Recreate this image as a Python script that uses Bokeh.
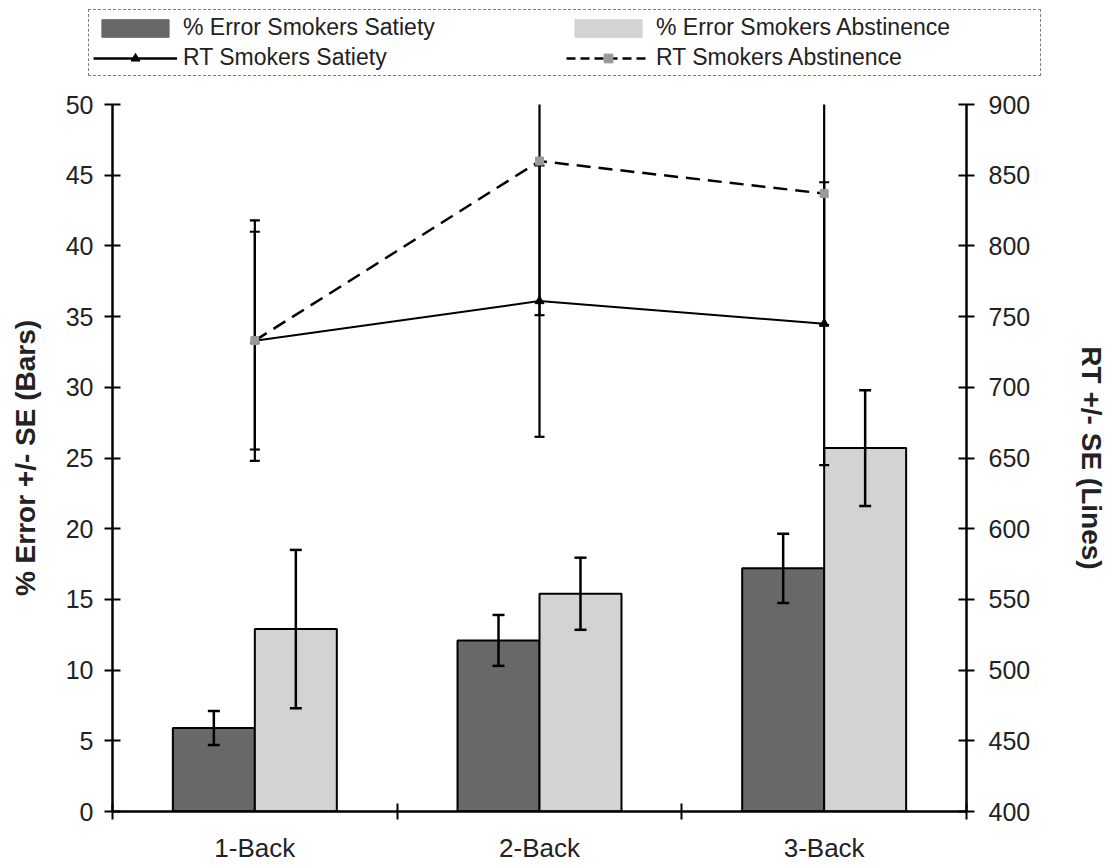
from bokeh.plotting import figure
from bokeh.models import Range1d, LinearAxis, FixedTicker, Legend, LegendItem
from bokeh.embed import file_html
from bokeh.resources import INLINE

# ---- data ----
categories = ["1-Back", "2-Back", "3-Back"]
err_sat = [5.9, 12.1, 17.2]
err_sat_se = [1.2, 1.8, 2.45]
err_abs = [12.9, 15.4, 25.7]
err_abs_se = [5.6, 2.55, 4.1]
rt_sat = [733, 761, 745]
rt_sat_se = [77, 96, 100]
rt_abs = [733, 860, 837]
rt_abs_se = [85, 109, 93]
left_ticks = [0, 5, 10, 15, 20, 25, 30, 35, 40, 45, 50]
right_ticks = [400, 450, 500, 550, 600, 650, 700, 750, 800, 850, 900]
legend_labels = ["% Error Smokers Satiety", "% Error Smokers Abstinence",
                 "RT Smokers Satiety", "RT Smokers Abstinence"]

FONT = "Liberation Sans"
TXT = "#222222"
DARK = "#686868"
LIGHT = "#d3d3d3"
ABS_MK = "#9a9a9a"
NAN = float("nan")

n = len(categories)
xc = [i + 0.5 for i in range(n)]
bw = 0.288
x_sat = [x - bw / 2 for x in xc]
x_abs = [x + bw / 2 for x in xc]

p = figure(width=1116, height=785, frame_width=854, frame_height=707,
           x_range=Range1d(0, n), y_range=Range1d(left_ticks[0], left_ticks[-1]),
           output_backend="svg", toolbar_location=None,
           min_border_left=112, min_border_right=150, min_border_top=24, min_border_bottom=54)
p.extra_y_ranges = {"rt": Range1d(right_ticks[0], right_ticks[-1])}
p.outline_line_color = None
p.grid.visible = False

# bottom axis
xa = p.xaxis[0]
xa.ticker = FixedTicker(ticks=xc, minor_ticks=list(range(n + 1)))
xa.major_label_overrides = {x: c for x, c in zip(xc, categories)}
xa.major_tick_in = 0
xa.major_tick_out = 0
xa.minor_tick_in = 8
xa.minor_tick_out = 8
xa.minor_tick_line_width = 2
xa.minor_tick_line_color = "black"
xa.axis_line_width = 2.5
xa.axis_line_color = "black"
xa.major_label_text_font = FONT
xa.major_label_text_font_size = "26px"
xa.major_label_text_color = TXT
xa.major_label_standoff = 13

# left axis
ya = p.yaxis[0]
ya.ticker = FixedTicker(ticks=left_ticks, minor_ticks=[])
ya.major_tick_in = 8
ya.major_tick_out = 8
ya.major_tick_line_width = 2
ya.axis_line_width = 2.5
ya.major_label_text_font = FONT
ya.major_label_text_font_size = "25px"
ya.major_label_text_color = TXT
ya.major_label_standoff = 11
ya.axis_label = "% Error +/- SE (Bars)"
ya.axis_label_text_font = FONT
ya.axis_label_text_font_size = "28px"
ya.axis_label_text_font_style = "bold"
ya.axis_label_text_color = TXT
ya.axis_label_standoff = 22

# right axis
ra = LinearAxis(y_range_name="rt", ticker=FixedTicker(ticks=right_ticks, minor_ticks=[]))
ra.major_tick_in = 8
ra.major_tick_out = 8
ra.major_tick_line_width = 2
ra.axis_line_width = 2.5
ra.major_label_text_font = FONT
ra.major_label_text_font_size = "25px"
ra.major_label_text_color = TXT
ra.major_label_standoff = 14
ra.axis_label = "RT +/- SE (Lines)"
ra.axis_label_text_font = FONT
ra.axis_label_text_font_size = "28px"
ra.axis_label_text_font_style = "bold"
ra.axis_label_text_color = TXT
ra.axis_label_standoff = 43
p.add_layout(ra, "right")

# bars
p.vbar(x=x_sat, top=err_sat, bottom=0, width=bw, fill_color=DARK, line_color="black", line_width=2)
p.vbar(x=x_abs, top=err_abs, bottom=0, width=bw, fill_color=LIGHT, line_color="black", line_width=2)

# bar error bars
for xs, ys, se in [(x_sat, err_sat, err_sat_se), (x_abs, err_abs, err_abs_se)]:
    lo = [y - s for y, s in zip(ys, se)]
    hi = [y + s for y, s in zip(ys, se)]
    p.segment(x0=xs, y0=lo, x1=xs, y1=hi, line_color="black", line_width=2.5)
    p.scatter(x=xs + xs, y=lo + hi, marker="dash", size=12, line_color="black", line_width=2.5)

# RT error bars
for ys, se in [(rt_sat, rt_sat_se), (rt_abs, rt_abs_se)]:
    lo = [y - s for y, s in zip(ys, se)]
    hi = [y + s for y, s in zip(ys, se)]
    p.segment(x0=xc, y0=lo, x1=xc, y1=hi, line_color="black", line_width=2.2, y_range_name="rt")
    p.scatter(x=xc + xc, y=lo + hi, marker="dash", size=10, line_color="black", line_width=2.2,
              y_range_name="rt")

# RT lines
p.line(x=xc, y=rt_sat, line_color="black", line_width=2, y_range_name="rt")
p.scatter(x=xc, y=rt_sat, marker="triangle", size=9, fill_color="black", line_color="black",
          y_range_name="rt")
p.line(x=xc, y=rt_abs, line_color="black", line_width=2.5, line_dash="14 8", y_range_name="rt")
p.scatter(x=xc, y=rt_abs, marker="square", size=8, fill_color=ABS_MK, line_color=ABS_MK,
          y_range_name="rt")

# ---- legend strip: its own root, so the legend is not clipped by the plot frame ----
lf = figure(width=1116, height=80, x_range=Range1d(0, 1), y_range=Range1d(0, 1),
            x_axis_type=None, y_axis_type=None, output_backend="svg", toolbar_location=None,
            min_border=0)
lf.outline_line_color = None
lf.grid.visible = False
# legend-key renderers (no visible data: NaN)
g1 = lf.vbar(x=[NAN], top=[NAN], width=0.1, fill_color=DARK, line_color=DARK, line_width=1)
g2 = lf.vbar(x=[NAN], top=[NAN], width=0.1, fill_color=LIGHT, line_color=LIGHT, line_width=1)
l3 = lf.line(x=[NAN], y=[NAN], line_color="black", line_width=2.5)
m3 = lf.scatter(x=[NAN], y=[NAN], marker="triangle", size=9, fill_color="black", line_color="black")
l4 = lf.line(x=[NAN], y=[NAN], line_color="black", line_width=2.5, line_dash="9 5")
m4 = lf.scatter(x=[NAN], y=[NAN], marker="square", size=8, fill_color=ABS_MK, line_color=ABS_MK)

legend = Legend(items=[
    LegendItem(label=legend_labels[0], renderers=[g1]),
    LegendItem(label=legend_labels[1], renderers=[g2]),
    LegendItem(label=legend_labels[2], renderers=[l3, m3]),
    LegendItem(label=legend_labels[3], renderers=[l4, m4]),
], location=(88, 4), orientation="horizontal", ncols=2)
legend.glyph_width = 84
legend.glyph_height = 22
legend.label_standoff = 6
legend.label_width = 380
legend.spacing = 3
legend.padding = 4
legend.margin = 0
legend.label_text_font = FONT
legend.label_text_font_size = "23px"
legend.label_text_color = TXT
legend.border_line_color = "black"
legend.border_line_width = 1.5
legend.border_line_dash = "2 2"
legend.background_fill_color = "white"
legend.background_fill_alpha = 1
lf.add_layout(legend, "center")

open("out.html", "w").write(file_html([lf, p], INLINE))
